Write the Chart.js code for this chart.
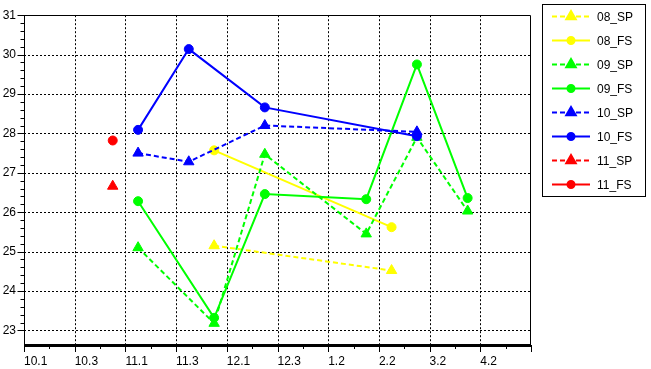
<!DOCTYPE html>
<html>
<head>
<meta charset="utf-8">
<script src="https://cdn.jsdelivr.net/npm/chart.js@4"></script>
<style>
  body { margin: 0; background: #fff; }
  #wrap { width: 651px; height: 369px; }
</style>
</head>
<body>
<div id="wrap"><canvas id="grafico" width="651" height="369"></canvas></div>
<script>
// Rótulos do eixo x (posições 0..9) e ticks do eixo y
const xLabels = ['10.1', '10.3', '11.1', '11.3', '12.1', '12.3', '1.2', '2.2', '3.2', '4.2'];
const yTicks = [23, 24, 25, 26, 27, 28, 29, 30, 31];

// Séries
const names = ['08_SP', '08_FS', '09_SP', '09_FS', '10_SP', '10_FS', '11_SP', '11_FS'];
const colors = ['#ffff00', '#ffff00', '#00ff00', '#00ff00', '#0000ff', '#0000ff', '#ff0000', '#ff0000'];

const x08sp = [3.75, 7.25];
const y08sp = [25.15, 24.52];
const x08fs = [3.75, 7.25];
const y08fs = [27.57, 25.62];
const x09sp = [2.25, 3.75, 4.75, 6.75, 7.75, 8.75];
const y09sp = [25.1, 23.18, 27.47, 25.45, 27.9, 26.03];
const x09fs = [2.25, 3.75, 4.75, 6.75, 7.75, 8.75];
const y09fs = [26.28, 23.32, 26.46, 26.33, 29.75, 26.36];
const x10sp = [2.25, 3.25, 4.75, 7.75];
const y10sp = [27.5, 27.28, 28.2, 28.04];
const x10fs = [2.25, 3.25, 4.75, 7.75];
const y10fs = [28.09, 30.14, 28.66, 27.93];
const x11sp = [1.75];
const y11sp = [26.66];
const x11fs = [1.75];
const y11fs = [27.82];

const xs = [x08sp, x08fs, x09sp, x09fs, x10sp, x10fs, x11sp, x11fs];
const ys = [y08sp, y08fs, y09sp, y09fs, y10sp, y10fs, y11sp, y11fs];

const FONT = 'Arial, "Liberation Sans", sans-serif';
const DASH = [5, 3];

const datasets = names.map((nome, i) => {
    const sp = nome.endsWith('SP');
    return {
        label: nome,
        data: xs[i].map((x, j) => ({ x: x, y: ys[i][j] })),
        borderColor: colors[i],
        backgroundColor: colors[i],
        borderWidth: 2,
        borderDash: sp ? DASH : [],
        pointStyle: sp ? 'triangle' : 'circle',
        pointRadius: sp ? 6 : 4.5,
        pointBorderWidth: 1,
        tension: 0,
        order: names.length - i
    };
});

// Grade pontilhada, moldura, ticks menores e legenda
const moldura = {
    id: 'moldura',
    beforeDatasetsDraw(chart) {
        const { ctx, chartArea: a, scales: { x, y } } = chart;
        ctx.save();
        ctx.strokeStyle = '#000';
        ctx.lineWidth = 1;
        ctx.setLineDash([2, 2]);
        ctx.beginPath();
        yTicks.forEach(v => {
            const py = Math.round(y.getPixelForValue(v)) + 0.5;
            ctx.moveTo(a.left, py);
            ctx.lineTo(a.right, py);
        });
        xLabels.forEach((_, i) => {
            if (i === 0) return;
            const px = Math.round(x.getPixelForValue(i)) + 0.5;
            ctx.moveTo(px, a.top);
            ctx.lineTo(px, a.bottom);
        });
        ctx.stroke();
        ctx.restore();
    },
    afterDatasetsDraw(chart) {
        const { ctx, chartArea: a, scales: { x, y } } = chart;
        ctx.save();
        ctx.strokeStyle = '#000';
        ctx.setLineDash([]);
        ctx.lineWidth = 1;
        const L = Math.round(a.left) + 0.5;
        const R = Math.round(a.right) - 0.5;
        const T = Math.round(a.top) + 0.5;
        ctx.beginPath();
        ctx.moveTo(L, a.bottom);
        ctx.lineTo(L, T);
        ctx.lineTo(R, T);
        ctx.lineTo(R, a.bottom);
        // ticks do eixo y (maiores e menores)
        for (let v = 23; v <= 31.001; v += 0.2) {
            const py = Math.round(y.getPixelForValue(v)) + 0.5;
            const major = Math.abs(v - Math.round(v)) < 0.01;
            ctx.moveTo(L - (major ? 7 : 4), py);
            ctx.lineTo(L, py);
        }
        // ticks do eixo x
        for (let v = 0; v <= 10.001; v += 0.5) {
            const px = Math.round(x.getPixelForValue(v)) + 0.5;
            const major = Math.abs(v - Math.round(v)) < 0.01;
            ctx.moveTo(px, a.bottom);
            ctx.lineTo(px, a.bottom + (major ? 7 : 4));
        }
        ctx.stroke();
        // eixo inferior grosso
        ctx.lineWidth = 3;
        ctx.beginPath();
        ctx.moveTo(a.left, a.bottom + 0.5);
        ctx.lineTo(a.right, a.bottom + 0.5);
        ctx.stroke();
        ctx.restore();
    },
    afterDraw(chart) {
        const ctx = chart.ctx;
        ctx.save();
        ctx.fillStyle = '#fff';
        ctx.fillRect(542, 4, 104, 193);
        ctx.strokeStyle = '#000';
        ctx.lineWidth = 1;
        ctx.setLineDash([]);
        ctx.strokeRect(542.5, 4.5, 103, 192);
        chart.data.datasets.forEach((d, i) => {
            const cy = Math.round(15.7 + i * 24.1) + 0.5;
            ctx.strokeStyle = d.borderColor;
            ctx.fillStyle = d.borderColor;
            ctx.lineWidth = 2;
            ctx.setLineDash(d.borderDash);
            ctx.beginPath();
            ctx.moveTo(552, cy);
            ctx.lineTo(590, cy);
            ctx.stroke();
            ctx.setLineDash([]);
            Chart.helpers.drawPoint(ctx, {
                pointStyle: d.pointStyle,
                radius: d.pointStyle === 'triangle' ? 5.5 : 3.5,
                borderWidth: 1,
                rotation: 0
            }, 571, cy);
            ctx.fill();
            ctx.fillStyle = '#000';
            ctx.font = '12px ' + FONT;
            ctx.textBaseline = 'middle';
            ctx.textAlign = 'left';
            ctx.fillText(d.label, 597, cy + 1);
        });
        ctx.restore();
    }
};

new Chart(document.getElementById('grafico'), {
    type: 'line',
    data: { datasets },
    options: {
        responsive: false,
        animation: false,
        devicePixelRatio: 1,
        layout: { padding: { left: 0, top: 12, right: 120, bottom: 0 } },
        plugins: { legend: { display: false }, tooltip: { enabled: false } },
        scales: {
            x: {
                type: 'linear',
                min: 0,
                max: 10,
                afterBuildTicks: s => { s.ticks = xLabels.map((_, i) => ({ value: i })); },
                afterFit: s => { s.height = 24; },
                ticks: {
                    callback: v => xLabels[v] ?? '',
                    align: 'start',
                    padding: 9,
                    maxRotation: 0,
                    autoSkip: false,
                    color: '#000',
                    font: { family: FONT, size: 12 }
                },
                grid: { display: false, drawTicks: false, tickLength: 0 },
                border: { display: false }
            },
            y: {
                type: 'linear',
                min: 22.63,
                max: 31,
                afterBuildTicks: s => { s.ticks = yTicks.map(v => ({ value: v })); },
                afterFit: s => { s.width = 24; },
                ticks: {
                    padding: 8,
                    color: '#000',
                    font: { family: FONT, size: 12 }
                },
                grid: { display: false, drawTicks: false, tickLength: 0 },
                border: { display: false }
            }
        }
    },
    plugins: [moldura]
});
</script>
</body>
</html>
